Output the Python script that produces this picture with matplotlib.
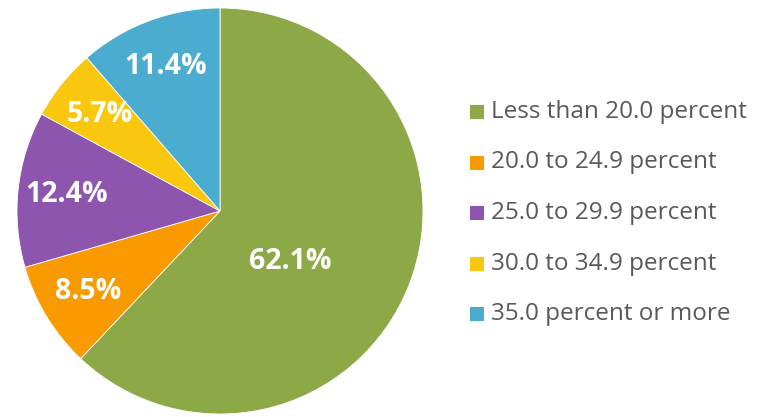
import matplotlib
matplotlib.use("Agg")
import matplotlib.pyplot as plt
from matplotlib.patches import Rectangle

categories = ["Less than 20.0 percent", "20.0 to 24.9 percent", "25.0 to 29.9 percent",
              "30.0 to 34.9 percent", "35.0 percent or more"]
values = [62.1, 8.5, 12.4, 5.7, 11.4]
colors = ["#8DA847", "#F99A00", "#8E55AE", "#FAC70F", "#4BACCF"]

plt.rcParams['font.family'] = ['Open Sans', 'DejaVu Sans']

W, H = 765, 417
fig = plt.figure(figsize=(W / 100, H / 100), dpi=100)
fig.patch.set_facecolor("white")

cx, cy, R = 220, 206, 203  # pixels from bottom-left
ax = fig.add_axes([(cx - R) / W, (cy - R) / H, 2 * R / W, 2 * R / H])
wedges, texts, autotexts = ax.pie(values, colors=colors, startangle=90, counterclock=False,
                                  autopct=lambda p: f"{p:.1f}%", pctdistance=0.76,
                                  wedgeprops=dict(edgecolor="white", linewidth=0.6),
                                  textprops=dict(color="white", fontsize=20.5, fontweight="bold"))
for t, v in zip(autotexts, values):
    t.set_text(f"{v:.1f}%")
autotexts[0].set_position((0.345, -0.25))
ax.set_xlim(-1, 1)
ax.set_ylim(-1, 1)
ax.set_aspect("equal")
ax.axis("off")

# legend
x_sq, x_txt = 477, 491
y0, step = 417 - 112, 50.5
sq = 14
for i, (lab, c) in enumerate(zip(categories, colors)):
    y = y0 - i * step
    fig.patches.append(Rectangle(((x_sq - sq / 2) / W, (y - sq / 2) / H), sq / W, sq / H,
                                 transform=fig.transFigure, facecolor=c, edgecolor="none"))
    fig.text(x_txt / W, y / H, lab, fontsize=17.5, color="#595959", va="center", ha="left")

fig.savefig("out.png", dpi=100)
